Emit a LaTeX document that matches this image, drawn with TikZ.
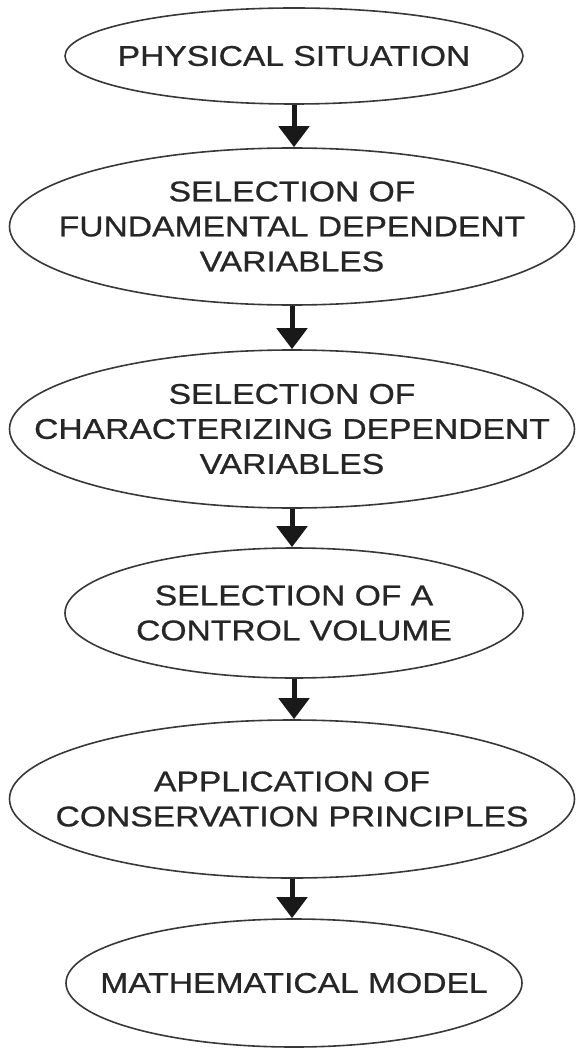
\documentclass[tikz,border=0pt]{standalone}
\usepackage{fontspec}
\setmainfont[FakeStretch=1.18, FakeBold=0.8]{Liberation Sans}
\usetikzlibrary{shapes.geometric,arrows.meta}

\begin{document}
\begin{tikzpicture}[x=1pt, y=-1pt,
		bubble/.style={ellipse, draw=black!78, line width=1.6pt, inner sep=0pt},
		words/.style={align=center, text=black!85, font=\fontsize{28.5}{35}\selectfont},
		flow/.style={-{Triangle[width=30pt, length=21pt]}, line width=5pt, draw=black!90}]
		\useasboundingbox (0, 0) rectangle (576, 1048);
		\node[bubble, minimum width=458pt, minimum height=96pt, label={[words]center:{PHYSICAL SITUATION}}] (phys) at (294, 56) {};
		\node[bubble, minimum width=565pt, minimum height=157pt, label={[words]center:{SELECTION OF\\FUNDAMENTAL DEPENDENT\\VARIABLES}}] (fund) at (292, 226.5) {};
		\node[bubble, minimum width=565pt, minimum height=158pt, label={[words]center:{SELECTION OF\\CHARACTERIZING DEPENDENT\\VARIABLES}}] (char) at (292, 429) {};
		\node[bubble, minimum width=458pt, minimum height=130pt, label={[words]center:{SELECTION OF A\\CONTROL VOLUME}}] (cvol) at (294, 613) {};
		\node[bubble, minimum width=565pt, minimum height=158pt, label={[words]center:{APPLICATION OF\\CONSERVATION PRINCIPLES}}] (cons) at (292, 799) {};
		\node[bubble, minimum width=456pt, minimum height=128pt, label={[words]center:{MATHEMATICAL MODEL}}] (model) at (294, 983) {};
		\foreach \a/\b in {phys/fund, fund/char, char/cvol, cvol/cons, cons/model}
			\draw[flow] (\a.south) -- (\a.south |- \b.north);
	\end{tikzpicture}
\end{document}
